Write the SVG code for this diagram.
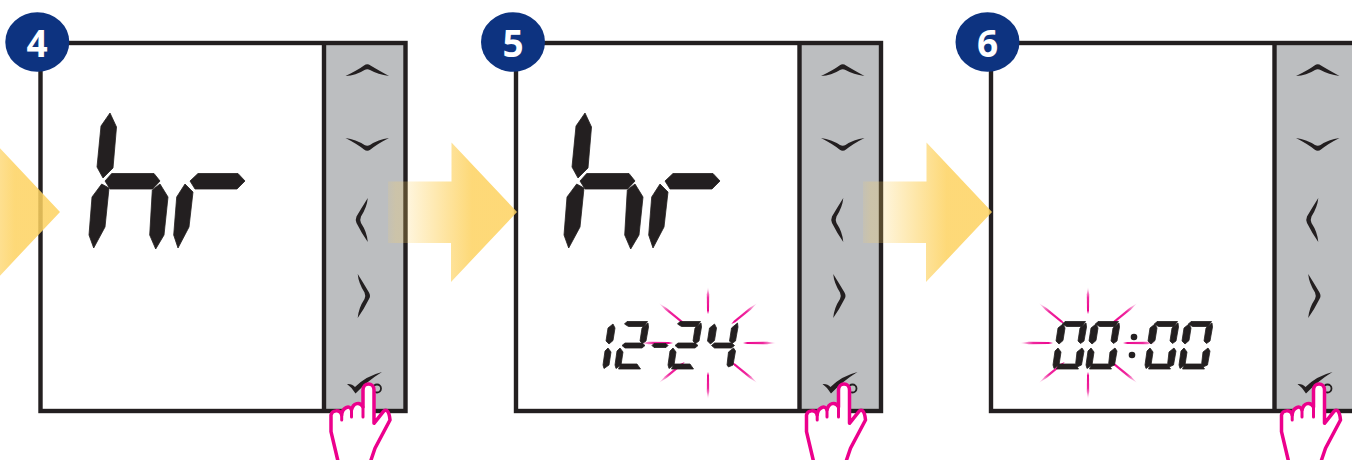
<svg xmlns="http://www.w3.org/2000/svg" width="1352" height="460" viewBox="0 0 1352 460">
<style>
.k{fill:#231f20}
.d{fill:#231f20;stroke:#231f20;stroke-width:.8;stroke-linejoin:round}
.badge{fill:#0d3380}
.num{font-family:'Open Sans','Liberation Sans',sans-serif;font-weight:700;font-size:37px;text-anchor:middle;fill:#fff}
.hand{fill:#fff;stroke:#ec008c;stroke-width:3.5;stroke-linejoin:round;stroke-linecap:round}
.sep{fill:none;stroke:#ec008c;stroke-width:3;stroke-linecap:round}
</style>
<defs>
<linearGradient id="ag" gradientUnits="userSpaceOnUse" x1="388" x2="517" y1="0" y2="0"><stop offset="0" stop-color="#fdd260" stop-opacity=".12"/><stop offset=".06" stop-color="#fdd260" stop-opacity=".24"/><stop offset=".17" stop-color="#fdd260" stop-opacity=".24"/><stop offset=".65" stop-color="#fdd260" stop-opacity=".85"/><stop offset="1" stop-color="#fdd260" stop-opacity=".85"/></linearGradient>
<linearGradient id="rg"><stop offset="0" stop-color="#ec008c"/><stop offset=".6" stop-color="#ec008c" stop-opacity=".85"/><stop offset="1" stop-color="#ec008c" stop-opacity=".05"/></linearGradient>
<polygon id="ray" points="0,0 4,-1 22,-1.2 30,0 22,1.2 4,1" fill="url(#rg)"/>
<polygon id="arrow" points="388,181.5 451.5,181.5 451.5,142.5 517,212 451,282 451,243 388,243" fill="url(#ag)"/>
<g id="hr" class="d">
<polygon points="110,113 116.5,127 113,168 103,178 97,167 101,126"/>
<polygon points="109,188 105,227 93.7,248 89,235 92,197 101.7,184"/>
<polygon points="105,181 111.7,173.5 154,173.5 160,181 152.7,189 110,189"/>
<polygon points="160,184 168,197 164,235 155.7,249 149.7,235 152.3,190"/>
<polygon points="185,184 193,192 189,227 178,248 173.7,235 176.7,197"/>
<polygon points="190,181 198,173.5 238,173.5 245,181 237,189 195,189"/>
</g>
<polygon id="t" points="12,0.5 32.5,0.5 29,5.5 13.5,5.5 9.5,3"/>
<polygon id="ul" points="10,3 12,7 10,19.5 6,23 3,20 5,7"/>
<polygon id="ur" points="33,2 33.5,6 31,20 27.5,22.5 25,20 27,7"/>
<polygon id="m" points="7,24.5 10,22 27,22 30,24.5 27,27 10,27"/>
<polygon id="ll" points="5,27 8,31 6,44 1,47.5 0,44 2,30"/>
<polygon id="lr" points="29,27 31,30 28.5,44 24,46 22.5,44 24,31"/>
<polygon id="b" points="6,43 22,43 25.5,48 3.5,48"/>
<g id="zero" class="d"><use href="#t"/><use href="#ul"/><use href="#ur"/><use href="#ll"/><use href="#lr"/><use href="#b"/></g>
<g id="two" class="d"><use href="#t"/><use href="#ur"/><use href="#m"/><use href="#ll"/><use href="#b"/></g>
<g id="rays">
<use href="#ray" transform="translate(35 0) scale(1.1 1)"/>
<use href="#ray" transform="rotate(180) translate(35 0) scale(1.1 1)"/>
<use href="#ray" transform="rotate(90) translate(29 0) scale(.9 1)"/>
<use href="#ray" transform="rotate(-90) translate(29 0) scale(.9 1)"/>
<use href="#ray" transform="rotate(39) translate(30 0) scale(1.1 1)"/>
<use href="#ray" transform="rotate(141) translate(30 0) scale(1.1 1)"/>
<use href="#ray" transform="rotate(-39) translate(30 0) scale(1.1 1)"/>
<use href="#ray" transform="rotate(-141) translate(30 0) scale(1.1 1)"/>
</g>
<g id="panel">
<rect x="40.5" y="43" width="283.5" height="368" fill="#fff"/>
<rect x="324" y="43" width="81.5" height="368" fill="#bcbec0"/>
<rect x="40.5" y="43" width="365" height="368" fill="none" stroke="#231f20" stroke-width="4.4"/>
<line x1="324" y1="43" x2="324" y2="411" stroke="#231f20" stroke-width="4.4"/>
<path class="k" d="M345.5,76 Q358,70 364,65.5 Q367.3,63 370.5,65.5 Q378,70 389,76 Q378,74.5 370,70 Q367.3,68.5 364.5,70 Q356,75.5 345.5,76Z"/>
<path class="k" d="M345.5,138 Q356,139.5 364.5,145 Q367.3,146.5 370,145 Q378,139.5 389,138 Q378,143.5 370.5,149.5 Q367.3,152 364,149.5 Q358,144.5 345.5,138Z"/>
<path class="k" d="M367.8,198 Q367,207 361,216.5 Q359.5,220 361,223 Q367,232 367.8,242 Q361.5,233 356.5,223 Q355,220 356.5,216.5 Q361.5,208 367.8,198Z"/>
<path class="k" d="M357.7,274 Q358.5,283 364.5,292.5 Q366,296 364.5,299 Q358.5,308 357.7,318 Q364,309 369,299 Q371,296 369,292.5 Q364,284 357.7,274Z"/>
<path class="k" d="M347,384 Q352,383.5 355,387 Q366,376 382,372 Q368,380.5 355.5,393.5 Q352,387.5 347,384Z"/>
<circle cx="377" cy="388.5" r="4" fill="none" stroke="#231f20" stroke-width="1.8"/>
<path class="hand" d="M337.7,460 L331,431.7 L331,415 C332,410 340,409 341.7,415 C342,408 350,404 351.5,410 C353,403 360,401 363,407 L363,390 C363,382 374,382 374,390 L374,423.3 L383.3,411.7 C385,409 389,409 390,420 L375,448.3 L371,460"/>
<path class="sep" d="M341.7,415 V420 M351.5,410 V417 M363,407 V417"/>
</g>
</defs>
<g id="node-4"><use href="#panel"/><use href="#hr"/><ellipse class="badge" cx="37.3" cy="42" rx="32" ry="29.8"/><text class="num" x="37" y="57">4</text></g>
<g id="node-5"><use href="#panel" transform="translate(475.5 0)"/><use href="#hr" transform="translate(475 0)"/>
<use href="#rays" transform="translate(708 343)"/>
<g class="d">
<use href="#ul" transform="translate(603 321)"/><use href="#ll" transform="translate(603 321)"/>
<use href="#two" transform="translate(615 321)"/>
<polygon points="652,345.5 654,343.5 666,343.5 668,345.5 666,347.5 654,347.5"/>
<use href="#two" transform="translate(668 321)"/>
<use href="#ul" transform="translate(704.5 321)"/><use href="#ur" transform="translate(704.5 321)"/><use href="#m" transform="translate(704.5 321)"/><use href="#lr" transform="translate(704.5 321)"/>
</g>
<ellipse class="badge" cx="513" cy="42" rx="32" ry="29.8"/><text class="num" x="513" y="57">5</text></g>
<g id="node-6"><use href="#panel" transform="translate(950.5 0)"/>
<use href="#rays" transform="translate(1088 343)"/>
<use href="#zero" transform="translate(1053 321)"/><use href="#zero" transform="translate(1086 321)"/>
<circle class="k" cx="1134" cy="337" r="3.3"/><circle class="k" cx="1132" cy="355" r="3.3"/>
<use href="#zero" transform="translate(1145 321)"/><use href="#zero" transform="translate(1179 321)"/>
<ellipse class="badge" cx="987.5" cy="42" rx="32" ry="29.8"/><text class="num" x="987.5" y="57">6</text></g>
<g id="connectors">
<use href="#arrow" transform="translate(-457 0)"/>
<use href="#arrow"/>
<use href="#arrow" transform="translate(475 0)"/>
</g>
</svg>
